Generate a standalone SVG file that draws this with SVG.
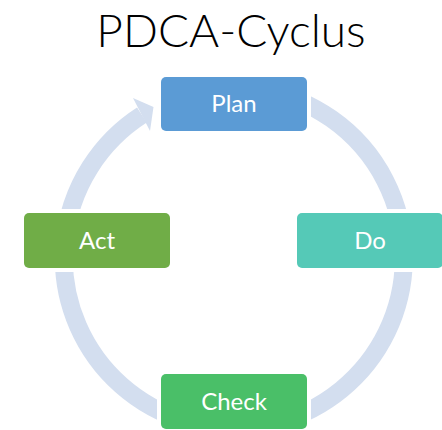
<svg xmlns="http://www.w3.org/2000/svg" width="442" height="430" viewBox="0 0 442 430">
<style>
.title{font-family:Lato,"Liberation Sans",sans-serif;font-size:46px;font-weight:300;fill:#000;text-anchor:middle}
.lbl{font-family:Lato,"Liberation Sans",sans-serif;font-size:24px;fill:#fff;text-anchor:middle}
.halo{fill:#fff}
.ring{fill:none;stroke:#D3DEEF;stroke-width:18}
</style>
<rect width="442" height="430" fill="#fff"/>
<text class="title" x="231" y="47">PDCA-Cyclus</text>
<g id="connectors">
<path class="ring" d="M 263.5 90.6 A 170 170 0 1 1 141.9 115.0"/>
<polygon points="133,98 153.5,107 150,131" fill="#D3DEEF"/>
</g>
<g id="plan">
<rect class="halo" x="157" y="73" width="154" height="62" rx="8"/>
<rect x="161" y="77" width="146" height="54" rx="5" fill="#5B9BD5"/>
<text class="lbl" x="234" y="112">Plan</text>
</g>
<g id="do">
<rect class="halo" x="293" y="209" width="154" height="63" rx="8"/>
<rect x="297" y="213" width="146" height="55" rx="5" fill="#55C9B7"/>
<text class="lbl" x="370" y="249">Do</text>
</g>
<g id="check">
<rect class="halo" x="157" y="370" width="154" height="63" rx="8"/>
<rect x="161" y="374" width="146" height="55" rx="5" fill="#4ABF68"/>
<text class="lbl" x="234" y="410">Check</text>
</g>
<g id="act">
<rect class="halo" x="20" y="209" width="154" height="63" rx="8"/>
<rect x="24" y="213" width="146" height="55" rx="5" fill="#70AD47"/>
<text class="lbl" x="97" y="249">Act</text>
</g>
</svg>
